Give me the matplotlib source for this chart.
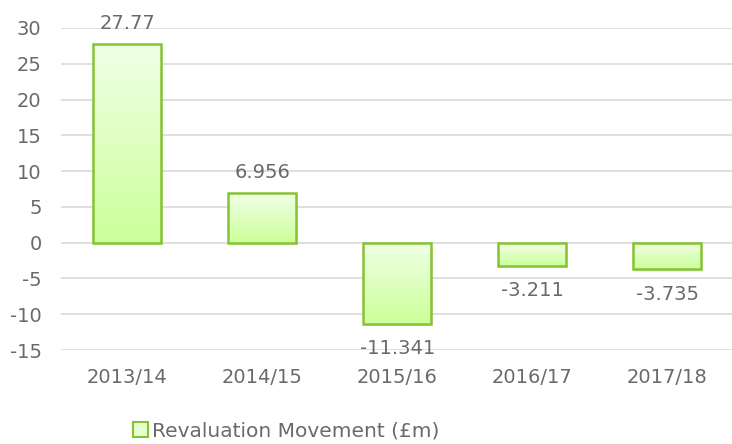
import matplotlib
matplotlib.use('Agg')
import matplotlib.pyplot as plt
import numpy as np
from matplotlib.patches import Patch
from matplotlib.colors import LinearSegmentedColormap

years = ['2013/14', '2014/15', '2015/16', '2016/17', '2017/18']
movement = [27.77, 6.956, -11.341, -3.211, -3.735]
value_labels = ['27.77', '6.956', '-11.341', '-3.211', '-3.735']
series_name = 'Revaluation Movement (£m)'

text_grey = '#6a6a6a'
edge_green = '#86C333'

plt.rcParams['font.family'] = ['DejaVu Sans']
plt.rcParams['axes.unicode_minus'] = False

fig = plt.figure(figsize=(7.32, 4.44), dpi=100)
ax = fig.add_axes([61 / 732, 1 - 350 / 444, 1 - 61 / 732, 322 / 444])

x = np.arange(len(years))
width = 0.5

# vertical gradient for the bar fill
grad = np.linspace(0, 1, 256).reshape(-1, 1)
cmap = LinearSegmentedColormap.from_list('g', ['#CCFF99', '#F0FFE6'])

for xi, v in zip(x, movement):
    lo, hi = min(0, v), max(0, v)
    # soft shadow
    for k, a in [(3, 0.05), (2, 0.07), (1, 0.09)]:
        sh = plt.Rectangle((xi - width / 2 + 0.004 * k, lo - 0.12 * k), width, hi - lo,
                           facecolor='black', alpha=a, edgecolor='none', zorder=2)
        ax.add_patch(sh)
    bar = ax.bar(xi, v, width, color='white', edgecolor='none', zorder=3)[0]
    im = ax.imshow(grad, cmap=cmap, aspect='auto', origin='lower',
                   extent=(xi - width / 2, xi + width / 2, lo, hi), zorder=4)
    im.set_clip_path(bar)
    ax.bar(xi, v, width, facecolor='none', edgecolor=edge_green, linewidth=1.8, zorder=5)

for xi, v, lab in zip(x, movement, value_labels):
    if v >= 0:
        ax.annotate(lab, (xi, v), xytext=(0, 11), textcoords='offset points',
                    ha='center', va='baseline', fontsize=14, color=text_grey, zorder=6)
    else:
        ax.annotate(lab, (xi, v), xytext=(0, -11), textcoords='offset points',
                    ha='center', va='top', fontsize=14, color=text_grey, zorder=6)

ax.set_xlim(-0.49, 4.48)
ax.set_ylim(-15, 30)
ax.set_yticks(np.arange(-15, 31, 5))
ax.set_xticks(x)
ax.set_xticklabels(years)
ax.yaxis.grid(True, color='#D9D9D9', linewidth=1.2, zorder=0)
ax.set_axisbelow(True)
for s in ax.spines.values():
    s.set_visible(False)
ax.tick_params(axis='both', length=0, labelsize=14, colors=text_grey)
ax.tick_params(axis='y', pad=14)
ax.tick_params(axis='x', pad=13)

handle = Patch(facecolor='#E6FFD0', edgecolor=edge_green, linewidth=1.5)
fig.legend([handle], [series_name], loc='center', bbox_to_anchor=(286 / 732, 1 - 431 / 444),
           frameon=False, fontsize=14.5, labelcolor=text_grey, handlelength=0.75,
           handleheight=0.75, handletextpad=0.2)

fig.savefig('out.png', dpi=100)
